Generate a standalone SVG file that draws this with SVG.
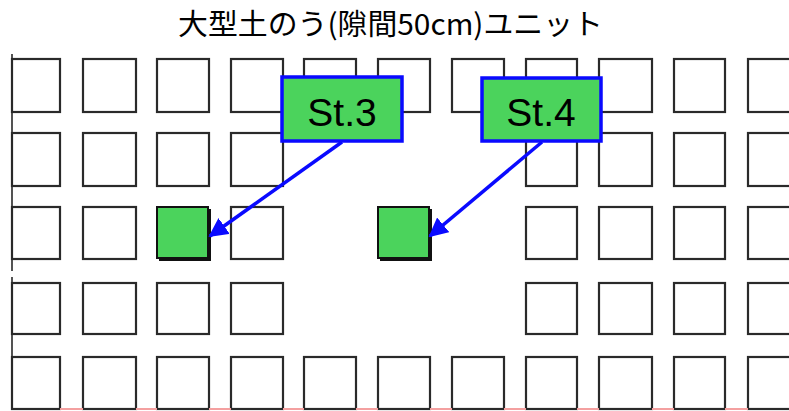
<svg xmlns="http://www.w3.org/2000/svg" width="789" height="411" viewBox="0 0 789 411">
<defs>
<style>
.sq{fill:#fff;stroke:#2a2a2a;stroke-width:2.2}
.gsq{fill:#4bd35c;stroke:#111;stroke-width:2}
.lbl{fill:#4bd35c;stroke:#0a0aff;stroke-width:3.5}
.lt{font-family:"Liberation Sans",Arial,sans-serif;font-size:39px;fill:#000;text-anchor:middle}
.arr{stroke:#0a0aff;stroke-width:3.5;fill:none}
</style>
<marker id="ah" viewBox="0 0 10 10" refX="9" refY="5" markerWidth="5.5" markerHeight="5.5" orient="auto" markerUnits="strokeWidth">
<path d="M0,0 L10,5 L0,10 z" fill="#0a0aff"/>
</marker>
</defs>
<rect width="789" height="411" fill="#fff"/>
<text x="390.5" y="35" font-family="'Noto Sans CJK JP','Noto Sans',sans-serif" font-size="29" textLength="425" lengthAdjust="spacingAndGlyphs" text-anchor="middle" fill="#000">大型土のう(隙間50cm)ユニット</text>
<g id="grid">
<!-- row 1 -->
<rect class="sq" x="12" y="59" width="48" height="53"/>
<rect class="sq" x="83" y="59" width="53" height="53"/>
<rect class="sq" x="157" y="59" width="52" height="53"/>
<rect class="sq" x="231" y="59" width="52" height="53"/>
<rect class="sq" x="304" y="59" width="52" height="53"/>
<rect class="sq" x="378" y="59" width="52" height="53"/>
<rect class="sq" x="452" y="59" width="52" height="53"/>
<rect class="sq" x="526" y="59" width="51" height="53"/>
<rect class="sq" x="599" y="59" width="53" height="53"/>
<rect class="sq" x="674" y="59" width="51" height="53"/>
<rect class="sq" x="748" y="59" width="52" height="53"/>
<!-- row 2 -->
<rect class="sq" x="12" y="133" width="48" height="53"/>
<rect class="sq" x="83" y="133" width="53" height="53"/>
<rect class="sq" x="157" y="133" width="52" height="53"/>
<rect class="sq" x="231" y="133" width="52" height="53"/>
<rect class="sq" x="526" y="133" width="51" height="53"/>
<rect class="sq" x="599" y="133" width="53" height="53"/>
<rect class="sq" x="674" y="133" width="51" height="53"/>
<rect class="sq" x="748" y="133" width="52" height="53"/>
<!-- row 3 -->
<rect class="sq" x="12" y="207" width="48" height="52"/>
<rect class="sq" x="83" y="207" width="53" height="52"/>
<rect class="sq" x="231" y="207" width="52" height="52"/>
<rect class="sq" x="526" y="207" width="51" height="52"/>
<rect class="sq" x="599" y="207" width="53" height="52"/>
<rect class="sq" x="674" y="207" width="51" height="52"/>
<rect class="sq" x="748" y="207" width="52" height="52"/>
<!-- row 4 -->
<rect class="sq" x="12" y="283" width="48" height="51"/>
<rect class="sq" x="83" y="283" width="53" height="51"/>
<rect class="sq" x="157" y="283" width="52" height="51"/>
<rect class="sq" x="231" y="283" width="52" height="51"/>
<rect class="sq" x="526" y="283" width="51" height="51"/>
<rect class="sq" x="599" y="283" width="53" height="51"/>
<rect class="sq" x="674" y="283" width="51" height="51"/>
<rect class="sq" x="748" y="283" width="52" height="51"/>
<!-- row 5 -->
<rect class="sq" x="12" y="357" width="48" height="52"/>
<rect class="sq" x="83" y="357" width="53" height="52"/>
<rect class="sq" x="157" y="357" width="52" height="52"/>
<rect class="sq" x="231" y="357" width="52" height="52"/>
<rect class="sq" x="304" y="357" width="52" height="52"/>
<rect class="sq" x="378" y="357" width="52" height="52"/>
<rect class="sq" x="452" y="357" width="52" height="52"/>
<rect class="sq" x="526" y="357" width="51" height="52"/>
<rect class="sq" x="599" y="357" width="53" height="52"/>
<rect class="sq" x="674" y="357" width="51" height="52"/>
<rect class="sq" x="748" y="357" width="52" height="52"/>
<path d="M60,409H83M136,409H157M209,409H231M283,409H304M356,409H378M430,409H452M504,409H526M577,409H599M652,409H674M725,409H748" stroke="#f4a0a0" stroke-width="2"/>
<path d="M12,54V271M12,277V409" stroke="#2a2a2a" stroke-width="1.6"/>
</g>
<g id="target3">
<rect x="159" y="209" width="52" height="52" fill="#111"/>
<rect class="gsq" x="157" y="207" width="51" height="51"/>
</g>
<g id="target4">
<rect x="380" y="209" width="52" height="52" fill="#111"/>
<rect class="gsq" x="378" y="207" width="51" height="51"/>
</g>
<g id="connectors">
<line class="arr" x1="342" y1="142" x2="210" y2="236" marker-end="url(#ah)"/>
<line class="arr" x1="542" y1="142" x2="430" y2="236" marker-end="url(#ah)"/>
</g>
<g id="st3">
<rect class="lbl" x="282" y="77" width="120" height="64"/>
<text class="lt" x="342" y="126">St.3</text>
</g>
<g id="st4">
<rect class="lbl" x="482" y="78" width="119" height="63"/>
<text class="lt" x="541" y="126">St.4</text>
</g>
</svg>
